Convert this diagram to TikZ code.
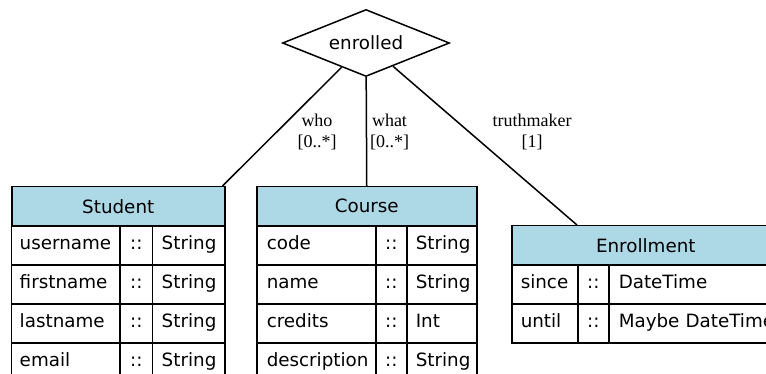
\documentclass[tikz,border=0pt]{standalone}
\usepackage{fontspec}
\setmainfont{DejaVu Sans}
\newfontfamily\labfont{Liberation Serif}
\usetikzlibrary{matrix,positioning,shapes.geometric}
\newcommand{\mylw}{1.5pt}
\definecolor{headblue}{RGB}{173,216,230}
\tikzset{
    node style rel/.style={draw,diamond,aspect=2.5,minimum width=167pt,minimum height=67pt,inner sep=0pt,font=\fontsize{18.3pt}{21pt}\selectfont},
    node style head/.style={draw,fill=headblue,minimum height=39pt,inner sep=0pt,outer sep=0.75pt,font=\fontsize{18.3pt}{21pt}\selectfont},
    node style lab/.style={align=center,inner sep=0pt,font=\labfont\fontsize{18pt}{21pt}\selectfont},
    table style/.style={matrix of nodes,inner sep=0pt,outer sep=0pt,
        column sep=-\mylw,row sep=-\mylw,
        nodes={draw,minimum height=39pt,text height=13pt,text depth=4pt,
            inner xsep=9pt,inner ysep=0pt,outer sep=0.75pt,align=left,
            font=\fontsize{18.3pt}{21pt}\selectfont}},
}
\begin{document}
\begin{tikzpicture}[line width=\mylw,x=1pt,y=1pt]
\useasboundingbox (0,0) rectangle (766,-374);
% la relation
\node[node style rel] (rel) at (366,-43) {enrolled};
% les tables
\node[node style head,minimum width=213pt,anchor=north west] (S-head) at (11,-186) {Student};
\matrix (S) [table style,below=-\mylw of S-head.south west,anchor=north west,
column 1/.style={nodes={text width=92pt,inner xsep=8pt}},
column 2/.style={nodes={text width=21pt,inner xsep=6pt,align=center}},
column 3/.style={nodes={text width=54pt}}]
{%
username  & :: & String \\
firstname & :: & String \\
lastname  & :: & String \\
email     & :: & String \\
};

\node[node style head,minimum width=220pt,anchor=north west] (C-head) at (256,-186) {Course};
\matrix (C) [table style,below=-\mylw of C-head.south west,anchor=north west,
column 1/.style={nodes={text width=99pt,inner xsep=10pt}},
column 2/.style={nodes={text width=19pt,inner xsep=6pt,align=center}},
column 3/.style={nodes={text width=52pt}}]
{%
code        & :: & String \\
name        & :: & String \\
credits     & :: & Int    \\
description & :: & String \\
};

\node[node style head,minimum width=290pt,anchor=north west] (E-head) at (511,-225) {\hspace*{-22pt}Enrollment};
\matrix (E) [table style,below=-\mylw of E-head.south west,anchor=north west,
column 1/.style={nodes={text width=48pt}},
column 2/.style={nodes={text width=19pt,inner xsep=6pt,align=center}},
column 3/.style={nodes={text width=173pt,inner xsep=10pt}}]
{%
since & :: & DateTime       \\
until & :: & Maybe DateTime \\
};
% les liens
\coordinate[xshift=-3pt] (who end) at (S-head.north east);
\coordinate (truth end) at (E-1-2.west |- E-head.north);
\draw (rel) -- (who end);
\draw (rel) -- (C-head.north);
\draw (rel) -- (truth end);
\node[node style lab] (who) at (317,-132) {who\\{[0..*]}};
\node[node style lab] (what) at (389.5,-132) {what\\{[0..*]}};
\node[node style lab] (truth) at (532,-132) {truthmaker\\{[1]}};
\end{tikzpicture}
\end{document}
